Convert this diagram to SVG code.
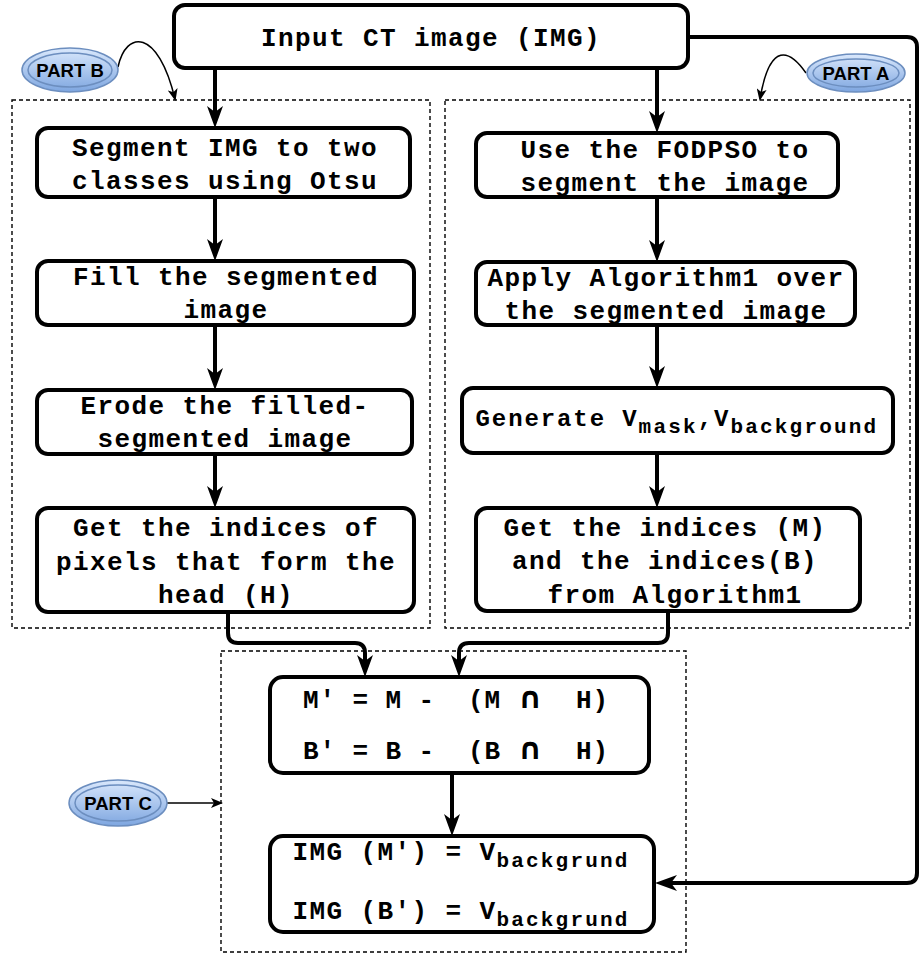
<svg xmlns="http://www.w3.org/2000/svg" width="919" height="956" viewBox="0 0 919 956">
<style>
.box{fill:#fff;stroke:#000;stroke-width:4}
.dash{fill:none;stroke:#000;stroke-width:1.4;stroke-dasharray:4 3}
.t{font-family:"Liberation Mono","Courier New",monospace;font-weight:bold;font-size:26px;letter-spacing:1.4px;text-anchor:middle;fill:#000}
.sub{font-size:21px;letter-spacing:2.2px}
.cap{font-family:"DejaVu Sans",sans-serif;font-size:30px;font-weight:bold}
.con{fill:none;stroke:#000;stroke-width:4;marker-end:url(#arr)}
.thin{fill:none;stroke:#000;stroke-width:1.5;marker-end:url(#arrs)}
.ell{fill:url(#g);stroke:#6c8ebf;stroke-width:1.5}
.ell2{fill:none;stroke:#6c8ebf;stroke-width:1.5}
.pt{font-family:"Liberation Sans",Arial,sans-serif;font-weight:bold;font-size:18.5px;text-anchor:middle;fill:#000}
</style>
<defs>
<linearGradient id="g" x1="0" y1="0" x2="0" y2="1">
<stop offset="0" stop-color="#dae8fc"/>
<stop offset="1" stop-color="#7ea6e0"/>
</linearGradient>
<marker id="arr" viewBox="0 0 22 16" refX="16" refY="8" markerWidth="22" markerHeight="16" markerUnits="userSpaceOnUse" orient="auto">
<path d="M0,0 L22,8 L0,16 L6,8 z" fill="#000"/>
</marker>
<marker id="arrs" viewBox="0 0 12 10" refX="10" refY="5" markerWidth="12" markerHeight="10" markerUnits="userSpaceOnUse" orient="auto">
<path d="M0,0 L12,5 L0,10 L3,5 z" fill="#000"/>
</marker>
</defs>

<g id="containers">
<rect class="dash" x="12" y="100" width="418" height="528"/>
<rect class="dash" x="445" y="100" width="465" height="528"/>
<rect class="dash" x="221" y="651" width="465" height="301"/>
</g>

<g id="connectors">
<path class="con" d="M215,68 V122"/>
<path class="con" d="M657,68 V127"/>
<path class="con" d="M688,37 H907 Q917,37 917,47 V873 Q917,883 907,883 H661"/>
<path class="con" d="M215,197 V255"/>
<path class="con" d="M215,325 V384"/>
<path class="con" d="M215,454 V502"/>
<path class="con" d="M657,197 V256"/>
<path class="con" d="M657,325 V382"/>
<path class="con" d="M657,453 V502"/>
<path class="con" d="M228,612 V633 Q228,643 238,643 H355 Q365,643 365,653 V671"/>
<path class="con" d="M668,611 V633 Q668,643 658,643 H469 Q459,643 459,653 V671"/>
<path class="con" d="M452,773 V830"/>
<path class="thin" d="M118,67 C126,30 158,28 175,99"/>
<path class="thin" d="M806,73 C790,50 770,40 760,99"/>
<path class="thin" d="M167,803 H221"/>
</g>

<g id="input">
<rect class="box" x="174" y="5" width="514" height="63" rx="11"/>
<text class="t" x="431" y="46">Input CT image (IMG)</text>
</g>

<g id="b1">
<rect class="box" x="37" y="128" width="373" height="69" rx="11"/>
<text class="t" x="225" y="156">Segment IMG to two</text>
<text class="t" x="225" y="189">classes using Otsu</text>
</g>
<g id="b2">
<rect class="box" x="37" y="261" width="377" height="64" rx="11"/>
<text class="t" x="226" y="285">Fill the segmented</text>
<text class="t" x="226" y="318">image</text>
</g>
<g id="b3">
<rect class="box" x="37" y="390" width="375" height="64" rx="11"/>
<text class="t" x="225" y="414">Erode the filled-</text>
<text class="t" x="225" y="447">segmented image</text>
</g>
<g id="b4">
<rect class="box" x="37" y="508" width="377" height="104" rx="11"/>
<text class="t" x="226" y="536">Get the indices of</text>
<text class="t" x="226" y="570">pixels that form the</text>
<text class="t" x="226" y="603">head (H)</text>
</g>

<g id="a1">
<rect class="box" x="476" y="133" width="362" height="64" rx="11"/>
<text class="t" x="665" y="158">Use the FODPSO to</text>
<text class="t" x="665" y="191">segment the image</text>
</g>
<g id="a2">
<rect class="box" x="476" y="262" width="379" height="63" rx="11"/>
<text class="t" x="666" y="286">Apply Algorithm1 over</text>
<text class="t" x="666" y="319">the segmented image</text>
</g>
<g id="a3">
<rect class="box" x="462" y="388" width="431" height="65" rx="11"/>
<text class="t" x="677" y="426" style="font-size:24px;letter-spacing:1.9px">Generate V<tspan class="sub" dy="7">mask</tspan><tspan dy="-7">,V</tspan><tspan class="sub" dy="7">background</tspan></text>
</g>
<g id="a4">
<rect class="box" x="476" y="508" width="384" height="103" rx="11"/>
<text class="t" x="665" y="536">Get the indices (M)</text>
<text class="t" x="665" y="569">and the indices(B)</text>
<text class="t" x="675" y="603">from Algorithm1</text>
</g>

<g id="c1">
<rect class="box" x="270" y="677" width="379" height="96" rx="13"/>
<text class="t" x="456" y="708" style="letter-spacing:0.9px" xml:space="preserve">M' = M -  (M <tspan class="cap">∩</tspan>  H)</text>
<text class="t" x="456" y="759" style="letter-spacing:0.9px" xml:space="preserve">B' = B -  (B <tspan class="cap">∩</tspan>  H)</text>
</g>
<g id="c2">
<rect class="box" x="270" y="836" width="384" height="96" rx="13"/>
<text class="t" x="461" y="860">IMG (M') = V<tspan class="sub" dy="7">backgrund</tspan></text>
<text class="t" x="461" y="919">IMG (B') = V<tspan class="sub" dy="7">backgrund</tspan></text>
</g>

<g id="partB">
<ellipse class="ell" cx="70" cy="70" rx="48" ry="22"/>
<ellipse class="ell2" cx="70" cy="70" rx="42" ry="17"/>
<text class="pt" x="70" y="76.5">PART B</text>
</g>
<g id="partA">
<ellipse class="ell" cx="856" cy="73" rx="49" ry="19"/>
<ellipse class="ell2" cx="856" cy="73" rx="43" ry="14"/>
<text class="pt" x="856" y="79.5">PART A</text>
</g>
<g id="partC">
<ellipse class="ell" cx="118" cy="803" rx="49" ry="23"/>
<ellipse class="ell2" cx="118" cy="803" rx="43" ry="18"/>
<text class="pt" x="118" y="809.5">PART C</text>
</g>
</svg>
